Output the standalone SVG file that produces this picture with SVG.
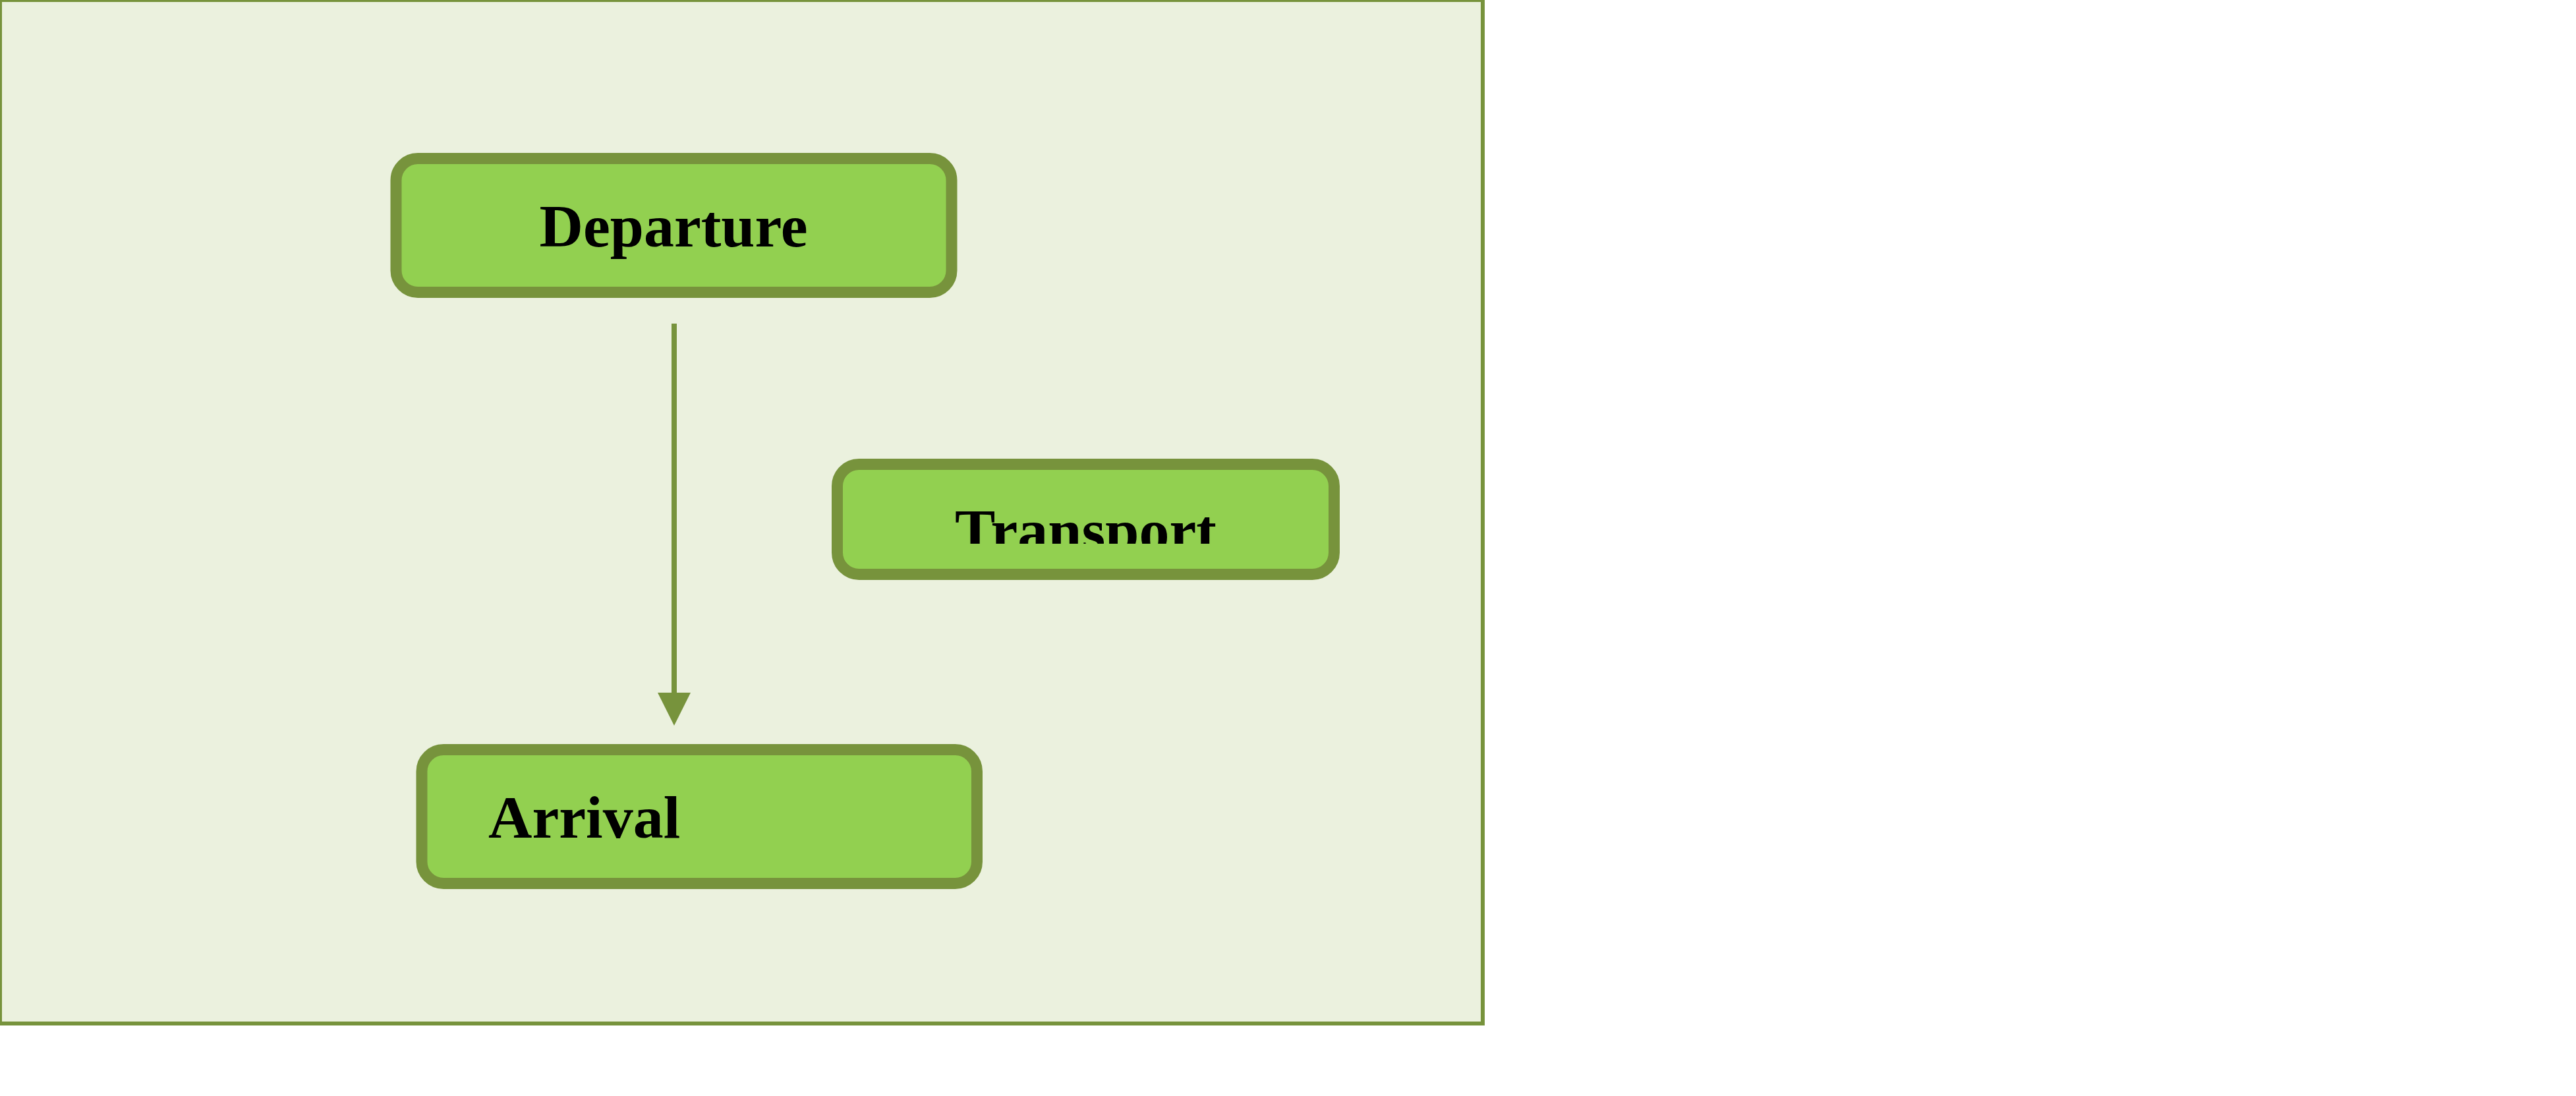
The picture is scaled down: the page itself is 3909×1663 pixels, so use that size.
<svg xmlns="http://www.w3.org/2000/svg" width="3909" height="1663" viewBox="0 0 3909 1663">
<style>
.node{fill:#92D050;stroke:#77933C;stroke-width:17}
.lbl{font-family:"Liberation Serif","Times New Roman",serif;font-weight:bold;font-size:92px;fill:#000}
.conn{stroke:#77933C;stroke-width:8;fill:none}
</style>
<defs>
<clipPath id="clipT"><rect x="1270" y="700" width="760" height="125"/></clipPath>
</defs>
<rect width="3909" height="1663" fill="#FFFFFF"/>
<g id="frame"><rect x="0" y="0" width="2250" height="1553" fill="#EBF1DE" stroke="#77933C" stroke-width="6"/></g>
<g id="connectors">
<line class="conn" x1="1023" y1="491" x2="1023" y2="1053"/>
<polygon points="998,1051 1048,1051 1023,1101" fill="#77933C"/>
</g>
<g id="departure">
<rect class="node" x="601" y="240.5" width="843" height="203" rx="33" ry="33"/>
<text class="lbl" x="1022" y="374" text-anchor="middle">Departure</text>
</g>
<g id="transport">
<rect class="node" x="1270.5" y="704.5" width="754" height="167" rx="33" ry="33"/>
<text class="lbl" x="1647.5" y="836" text-anchor="middle" clip-path="url(#clipT)">Transport</text>
</g>
<g id="arrival">
<rect class="node" x="640" y="1137.5" width="842.5" height="203" rx="33" ry="33"/>
<text class="lbl" x="741" y="1271">Arrival</text>
</g>
</svg>
